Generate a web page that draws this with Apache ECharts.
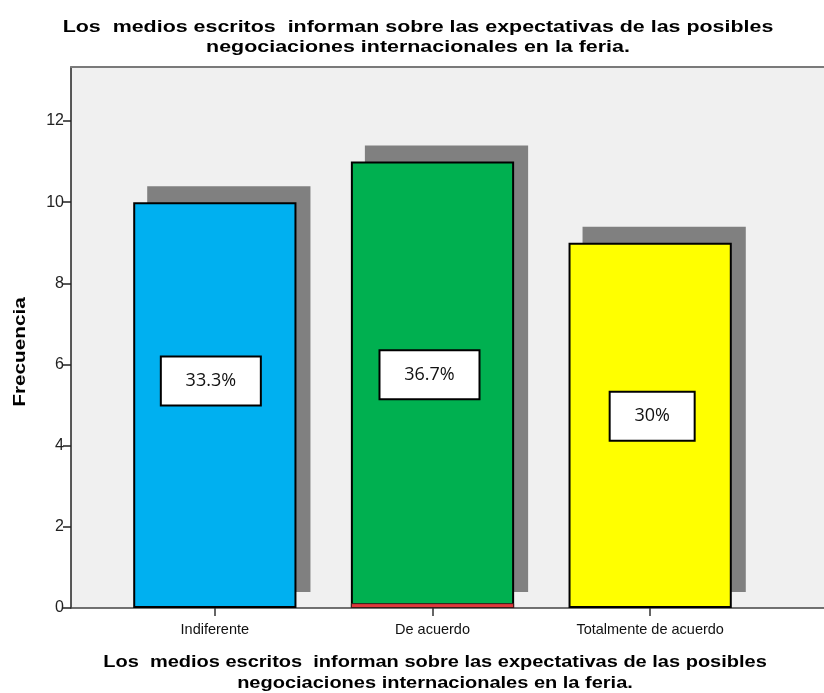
<!DOCTYPE html>
<html>
<head>
<meta charset="utf-8">
<script src="https://cdn.jsdelivr.net/npm/echarts@6/dist/echarts.min.js"></script>
<style>
  html, body { margin: 0; padding: 0; background: #ffffff; }
  #chart { width: 824px; height: 693px; }
</style>
</head>
<body>
<div id="chart"></div>
<script>
// Frequency of responses per category
const categories = ['Indiferente', 'De acuerdo', 'Totalmente de acuerdo'];
const frequencies = [10, 11, 9];
// thin red band drawn at the base of the middle bar
const baseBand = [null, 0.12, null];
const yTicks = [0, 2, 4, 6, 8, 10, 12];

const titleText = 'Los  medios escritos  informan sobre las expectativas de las posibles\nnegociaciones internacionales en la feria.';

// presentation settings
const barColors = ['#00b0f0', '#00b050', '#ffff00'];
const labelOffsets = [[-4, -24], [-3, -10], [2, -9]];
const labelWidths = [98, 98, 83];

const total = frequencies.reduce((a, b) => a + b, 0);
const pctText = v => {
  const p = (v / total * 100).toFixed(1);
  return (p.endsWith('.0') ? p.slice(0, -2) : p) + '%';
};

const yMax = 13.33;
const plotTop = 67, plotBottom = 85;
// drop-shadow displacement of each bar, in pixels
const shadowDx = 14, shadowDy = 16;

const chart = echarts.init(document.getElementById('chart'), null, { renderer: 'canvas' });

chart.setOption({
  animation: false,
  graphic: [
    {
      type: 'text',
      x: 418, y: 17,
      scaleX: 1.26,
      z: 10,
      style: {
        text: titleText,
        fontFamily: 'Liberation Sans',
        fontWeight: 'bold',
        fontSize: 17,
        lineHeight: 20,
        fill: '#000',
        textAlign: 'center',
        textVerticalAlign: 'top'
      }
    },
    {
      type: 'text',
      x: 20, y: 352,
      rotation: Math.PI / 2,
      scaleX: 1.22,
      z: 10,
      style: {
        text: 'Frecuencia',
        fontFamily: 'Liberation Sans',
        fontWeight: 'bold',
        fontSize: 17,
        fill: '#000',
        textAlign: 'center',
        textVerticalAlign: 'middle'
      }
    },
    {
      type: 'text',
      x: 435, y: 652,
      scaleX: 1.25,
      z: 10,
      style: {
        text: titleText,
        fontFamily: 'Liberation Sans',
        fontWeight: 'bold',
        fontSize: 16,
        lineHeight: 21,
        fill: '#000',
        textAlign: 'center',
        textVerticalAlign: 'top'
      }
    }
  ],
  grid: [
    { left: 71, right: 0, top: plotTop, bottom: plotBottom, show: true, backgroundColor: '#f0f0f0', borderWidth: 0 },
    { left: 106, right: 65, top: plotTop, bottom: plotBottom },
    { left: 106 + shadowDx, right: 65 - shadowDx, top: plotTop - shadowDy, bottom: plotBottom + shadowDy }
  ],
  xAxis: [
    {
      gridIndex: 0, type: 'value', min: 0, max: 1, position: 'bottom',
      axisLine: { show: true, lineStyle: { color: '#444', width: 1.5 } },
      axisTick: { show: false }, axisLabel: { show: false }, splitLine: { show: false }
    },
    {
      gridIndex: 0, type: 'value', min: 0, max: 1, position: 'top',
      axisLine: { show: true, lineStyle: { color: '#7a7a7a', width: 2 } },
      axisTick: { show: false }, axisLabel: { show: false }, splitLine: { show: false }
    },
    {
      gridIndex: 1, type: 'category', data: categories,
      axisLine: { show: false },
      axisTick: { show: true, alignWithLabel: true, length: 8, lineStyle: { color: '#333', width: 1.5 } },
      axisLabel: { fontFamily: 'Liberation Sans', fontSize: 14.5, color: '#111', margin: 14 }
    },
    {
      gridIndex: 2, type: 'category', data: categories, show: false
    }
  ],
  yAxis: [
    {
      gridIndex: 0, type: 'value', min: 0, max: yMax, interval: 2,
      axisLine: { show: true, lineStyle: { color: '#222', width: 1.5 } },
      axisTick: { show: true, length: 8, lineStyle: { color: '#222', width: 1.5 }, customValues: yTicks },
      axisLabel: { fontFamily: 'Liberation Sans', fontSize: 16, color: '#222', margin: 7, customValues: yTicks },
      splitLine: { show: false }
    },
    { gridIndex: 1, type: 'value', min: 0, max: yMax, show: false },
    { gridIndex: 2, type: 'value', min: 0, max: yMax, show: false }
  ],
  series: [
    {
      // drop shadows behind the bars
      type: 'bar',
      xAxisIndex: 3, yAxisIndex: 2,
      barWidth: '75%',
      z: 1,
      silent: true,
      data: frequencies,
      itemStyle: { color: '#808080' }
    },
    {
      type: 'bar',
      xAxisIndex: 2, yAxisIndex: 1,
      barWidth: '75%',
      z: 2,
      data: frequencies.map((v, i) => ({
        value: v,
        itemStyle: { color: barColors[i] },
        label: { offset: labelOffsets[i], width: labelWidths[i] }
      })),
      itemStyle: { borderColor: '#000', borderWidth: 2 },
      label: {
        show: true,
        position: 'inside',
        formatter: p => pctText(p.value),
        fontFamily: 'Open Sans',
        fontSize: 18,
        color: '#111',
        backgroundColor: '#fff',
        borderColor: '#000',
        borderWidth: 2,
        height: 47,
        lineHeight: 47,
        align: 'center',
        verticalAlign: 'middle'
      }
    },
    {
      type: 'bar',
      xAxisIndex: 2, yAxisIndex: 1,
      barWidth: '75%',
      barGap: '-100%',
      z: 3,
      data: baseBand,
      itemStyle: { color: '#e0393c', borderColor: '#3a1a1a', borderWidth: 1 }
    }
  ]
});
</script>
</body>
</html>
